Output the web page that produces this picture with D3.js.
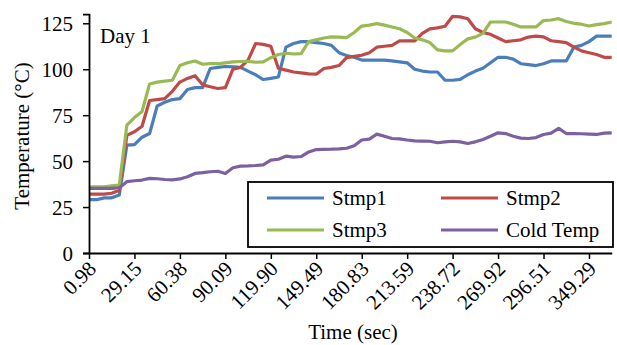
<!DOCTYPE html>
<html>
<head>
<meta charset="utf-8">
<script src="https://cdn.jsdelivr.net/npm/d3@7"></script>
<style>
  body { margin: 0; background: #fff; }
  text { font-family: "Liberation Serif", "Times New Roman", serif; fill: #000; }
</style>
</head>
<body>
<svg id="chart" width="617" height="345" viewBox="0 0 617 345"></svg>
<script>
// time stamps (sec), only every 6th is labelled
const times = [
  "0.98", "5.63", "10.24", "14.87", "19.53", "24.34",
  "29.15", "34.31", "39.52", "44.69", "49.88", "55.12",
  "60.38", "65.36", "70.31", "75.27", "80.22", "85.15",
  "90.09", "95.07", "100.05", "105.02", "110.00", "114.95",
  "119.90", "124.84", "129.77", "134.70", "139.63", "144.56",
  "149.49", "154.71", "159.93", "165.16", "170.38", "175.61",
  "180.83", "186.29", "191.75", "197.21", "202.67", "208.13",
  "213.59", "217.78", "221.97", "226.15", "230.34", "234.53",
  "238.72", "243.92", "249.12", "254.32", "259.52", "264.72",
  "269.92", "274.35", "278.78", "283.22", "287.65", "292.08",
  "296.51", "305.31", "314.10", "322.90", "331.70", "340.49",
  "349.29", "354.11", "358.94", "363.76"
];

const stmp1 = [
  29, 29, 30, 30, 31.5, 58.7, 59, 63, 65, 80,
  82, 83.5, 84, 89, 90, 90, 100.4, 101, 101.5, 101.3,
  101, 99, 97, 94.4, 95, 95.8, 112, 114, 115, 115,
  114.5, 114, 113, 109, 107.5, 106.5, 105, 105, 105, 105,
  104.5, 104, 103.5, 100, 99, 98.5, 98.5, 94, 94, 94.5,
  97, 99, 100.5, 103.5, 106.5, 106.5, 105.5, 103, 102.5, 102,
  103, 104.5, 104.5, 104.5, 112, 113, 115, 118, 118, 118
];
const stmp2 = [
  32, 32, 32, 32.5, 34.2, 64, 66, 69, 83, 83.5,
  84, 88, 93, 95, 96.5, 91.5, 90.5, 89.5, 90, 100,
  101, 105, 114, 113.5, 112.5, 100.5, 99.5, 98.5, 98, 97.5,
  97.3, 100.4, 101, 102, 106.3, 107, 107.6, 109, 112, 112.5,
  113, 115.4, 115.4, 115.4, 119.5, 122, 122.5, 123.4, 128.8, 128.5,
  127.5, 122, 120, 119, 117, 115, 115.5, 116, 117.5, 118,
  117.6, 115.5, 115, 114.5, 112, 110, 109, 108, 106.5, 106.5
];
const stmp3 = [
  36, 36, 36, 36.5, 37, 69.6, 73.7, 77, 92, 93,
  93.5, 94, 102, 103.5, 104.5, 102.7, 103, 103, 103.5, 104,
  104.2, 104.3, 103.8, 104, 106.3, 108, 108.7, 108.3, 108.5, 115,
  116, 117, 117.6, 117.5, 117.2, 120, 123.5, 124, 124.8, 124,
  123, 122, 120, 117, 116, 114.5, 110.5, 110, 110, 113.5,
  116.5, 117.5, 119.5, 125.7, 125.7, 125.7, 124.5, 123, 123, 123,
  126.5, 126.8, 127.5, 126, 125, 124.5, 123.5, 124.3, 124.8, 125.7
];
const coldTemp = [
  35.2, 35.2, 35.2, 35.2, 35.5, 38.8, 39.3, 39.7, 40.6, 40.4,
  40, 39.8, 40.3, 41.5, 43.3, 43.7, 44.2, 44.5, 43.3, 46.4,
  47.3, 47.4, 47.6, 48, 50.5, 51, 52.7, 52.2, 52.5, 55,
  56.3, 56.4, 56.5, 56.7, 57, 58.4, 61.5, 62, 64.7, 63.5,
  62.3, 62.1, 61.5, 61, 60.9, 60.8, 60, 60.5, 60.8, 60.5,
  59.6, 60.5, 61.8, 63.5, 65.4, 65, 63.5, 62.5, 62.3, 62.8,
  64.5, 65.2, 67.8, 65, 65, 64.9, 64.7, 64.5, 65.2, 65.4
];

const seriesNames = ["Stmp1", "Stmp2", "Stmp3", "Cold Temp"];
const seriesValues = [stmp1, stmp2, stmp3, coldTemp];
const colors = ["#4a7ebb", "#be4b48", "#98b954", "#7d60a0"];
const yTicks = [0, 25, 50, 75, 100, 125];

const svg = d3.select("#chart");
const fontSize = "21px";

const x = d3.scalePoint().domain(times).range([89, 611.7]);
const y = d3.scaleLinear().domain([0, 130]).range([253, 14.1]);

// --- series lines ---
const line = d3.line()
  .x((d, i) => x(times[i]))
  .y(d => y(d));

seriesValues.forEach((vals, k) => {
  svg.append("path")
    .datum(vals)
    .attr("d", line)
    .attr("fill", "none")
    .attr("stroke", colors[k])
    .attr("stroke-width", 3.2)
    .attr("stroke-linejoin", "round");
});

// --- axes ---
const yAxis = d3.axisLeft(y).tickValues(yTicks).tickSize(6).tickPadding(10);
const gy = svg.append("g").attr("transform", "translate(89,0)").call(yAxis);
gy.select(".domain").attr("stroke", "#000").attr("stroke-width", 1.8);
gy.selectAll(".tick line").attr("stroke", "#000").attr("stroke-width", 1.5);
gy.selectAll(".tick text")
  .style("font-family", "Liberation Serif")
  .style("font-size", fontSize)
  .attr("fill", "#000")
  .attr("dy", "0.34em");

const labelled = times.filter((t, i) => i % 6 === 0);
const xAxis = d3.axisBottom(x).tickValues(labelled).tickSize(6).tickSizeOuter(0);
const gx = svg.append("g").attr("transform", "translate(0,253)").call(xAxis);
gx.select(".domain").attr("stroke", "#000").attr("stroke-width", 1.8);
gx.selectAll(".tick line").attr("stroke", "#000").attr("stroke-width", 1.5);
gx.selectAll(".tick text")
  .style("font-family", "Liberation Serif")
  .style("font-size", fontSize)
  .attr("fill", "#000")
  .attr("text-anchor", "end")
  .attr("x", 0).attr("y", 0).attr("dy", 0)
  .attr("transform", "translate(8,17) rotate(-45)");

// --- titles ---
svg.append("text")
  .attr("transform", "translate(29,136) rotate(-90)")
  .attr("text-anchor", "middle")
  .style("font-size", fontSize)
  .text("Temperature (°C)");

svg.append("text")
  .attr("x", 353).attr("y", 339)
  .attr("text-anchor", "middle")
  .style("font-size", fontSize)
  .text("Time (sec)");

svg.append("text")
  .attr("x", 100).attr("y", 43)
  .style("font-size", fontSize)
  .text("Day 1");

// --- legend ---
const legend = svg.append("g");
legend.append("rect")
  .attr("x", 248).attr("y", 182)
  .attr("width", 365).attr("height", 65)
  .attr("fill", "#fff")
  .attr("stroke", "#000")
  .attr("stroke-width", 1.8);

const legendPos = [
  { lx: 267, ty: 198 }, { lx: 441, ty: 198 },
  { lx: 267, ty: 230 }, { lx: 441, ty: 230 }
];
seriesNames.forEach((name, k) => {
  const p = legendPos[k];
  legend.append("line")
    .attr("x1", p.lx).attr("x2", p.lx + 57)
    .attr("y1", p.ty).attr("y2", p.ty)
    .attr("stroke", colors[k]).attr("stroke-width", 3.2);
  legend.append("text")
    .attr("x", p.lx + 65).attr("y", p.ty)
    .attr("dy", "0.35em")
    .style("font-size", fontSize)
    .text(name);
});
</script>
</body>
</html>
